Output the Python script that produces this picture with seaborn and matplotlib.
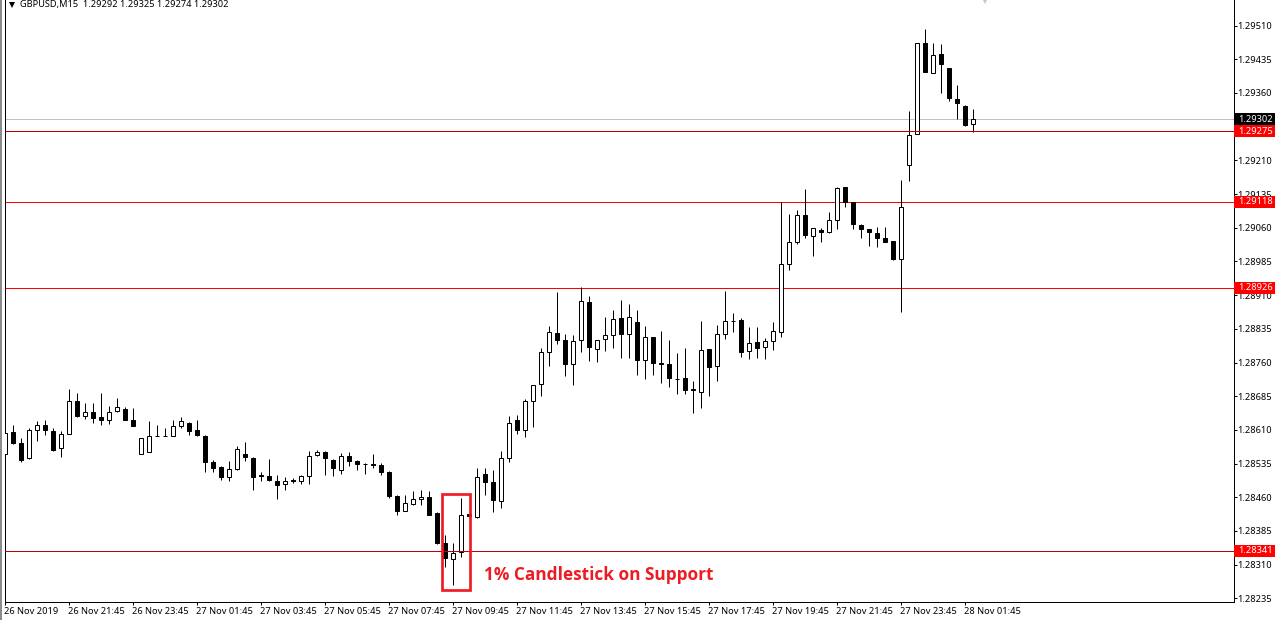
import matplotlib
matplotlib.use("Agg")
import matplotlib.pyplot as plt
import matplotlib.transforms as mtrans
from matplotlib.patches import Rectangle
import numpy as np
import pandas as pd
import seaborn as sns

# Prices in points (price x 100000), one entry per M15 candle
opens = [128557,128606,128580,128547,128610,128621,128608,128570,128601,128675,
         128641,128650,128639,128632,128652,128657,128632,128557,128561,128597,
         128597,128597,128619,128626,128610,128597,128539,128528,128505,128522,
         128557,128548,128510,128508,128497,128489,128499,128496,128508,128554,
         128561,128543,128521,128552,128541,128535,128535,128532,128517,128463,
         128429,128445,128457,128461,128424,128359,128323,128339,128422,128416,
         128512,128495,128452,128548,128631,128609,128675,128713,128784,128826,
         128811,128757,128811,128895,128791,128813,128822,128860,128824,128851,
         128766,128817,128759,128757,128724,128726,128702,128695,128791,128753,
         128824,128853,128855,128786,128806,128795,128809,128829,128980,129029,
         129089,129042,129056,129051,129078,129151,129118,129067,129058,129049,
         129038,129031,128991,129200,129268,129471,129404,129447,129415,129346,
         129331,129292]
highs = [128618,128620,128592,128614,128630,128633,128614,128608,128702,128692,
         128670,128670,128692,128663,128681,128661,128659,128592,128630,128622,
         128614,128632,128639,128628,128632,128599,128543,128530,128541,128574,
         128583,128549,128517,128546,128510,128506,128503,128510,128564,128566,
         128564,128546,128559,128561,128543,128537,128557,128537,128519,128466,
         128466,128475,128477,128475,128428,128377,128359,128459,128422,128526,
         128526,128521,128564,128642,128644,128678,128711,128793,128842,128918,
         128824,128822,128929,128909,128811,128862,128877,128900,128891,128877,
         128842,128817,128831,128811,128782,128793,128719,128853,128791,128844,
         128920,128871,128860,128840,128838,128815,128851,129117,129091,129100,
         129147,129060,129060,129094,129151,129151,129118,129069,129058,129062,
         129062,129031,129167,129320,129471,129502,129471,129469,129415,129378,
         129333,129325]
lows = [128550,128578,128538,128545,128585,128598,128562,128549,128601,128638,
        128634,128625,128620,128623,128649,128631,128618,128557,128561,128596,
        128596,128597,128615,128598,128596,128516,128516,128498,128496,128521,
        128540,128476,128496,128496,128456,128476,128492,128489,128489,128552,
        128509,128507,128512,128529,128521,128512,128525,128509,128458,128420,
        128429,128443,128443,128420,128356,128304,128264,128326,128418,128414,
        128466,128427,128436,128538,128601,128594,128616,128685,128752,128801,
        128730,128710,128783,128763,128761,128785,128792,128771,128770,128732,
        128723,128732,128714,128705,128690,128690,128647,128659,128685,128719,
        128812,128828,128772,128768,128770,128768,128788,128817,128966,129024,
        129037,128997,129028,129048,129057,129106,129057,129037,129019,129017,
        129028,128988,128872,129164,129268,129407,129404,129359,129343,129303,
        129286,129274]
closes = [128603,128580,128544,128610,128621,128609,128566,128601,128675,128640,
          128650,128636,128631,128650,128661,128631,128618,128592,128597,128596,
          128596,128619,128630,128607,128598,128538,128525,128505,128523,128568,
          128549,128505,128508,128498,128487,128497,128496,128508,128552,128561,
          128547,128525,128552,128541,128534,128534,128532,128516,128463,128429,
          128448,128457,128461,128420,128358,128325,128336,128421,128418,128506,
          128495,128454,128548,128626,128609,128675,128711,128784,128829,128810,
          128757,128808,128898,128794,128811,128822,128857,128823,128862,128765,
          128817,128759,128757,128725,128723,128699,128699,128788,128750,128824,
          128853,128852,128783,128804,128793,128808,128831,128980,129029,129089,
          129044,129060,129051,129078,129149,129118,129068,129057,129051,129037,
          129028,128990,129107,129267,129471,129407,129444,129424,129348,129337,
          129288,129302]

y_ticks = [1.29510,1.29435,1.29360,1.29210,1.29135,1.29060,1.28985,1.28910,
           1.28835,1.28760,1.28685,1.28610,1.28535,1.28460,1.28385,1.28310,1.28235]
x_labels = ["26 Nov 2019","26 Nov 21:45","26 Nov 23:45","27 Nov 01:45","27 Nov 03:45",
            "27 Nov 05:45","27 Nov 07:45","27 Nov 09:45","27 Nov 11:45","27 Nov 13:45",
            "27 Nov 15:45","27 Nov 17:45","27 Nov 19:45","27 Nov 21:45","27 Nov 23:45",
            "28 Nov 01:45"]
red_levels = [1.29118, 1.28926]
dark_levels = [1.29275, 1.28341]
bid_level = 1.29302
header = "GBPUSD,M15  1.29292 1.29325 1.29274 1.29302"
note = "1% Candlestick on Support"

sns.set_theme(style="white")
plt.rcParams["font.family"] = ["Noto Sans", "DejaVu Sans"]

W, H = 1280, 620
px = 72 / 100
fig = plt.figure(figsize=(W / 100, H / 100), dpi=100, facecolor="white")
ax = fig.add_axes([4.5 / W, (H - 601.5) / H, (1233.5 - 4.5) / W, 601.5 / H])

o = np.array(opens) / 1e5
h = np.array(highs) / 1e5
l = np.array(lows) / 1e5
c = np.array(closes) / 1e5
idx = np.arange(len(o))

wicks = pd.DataFrame({"bar": np.r_[idx, idx], "price": np.r_[l, h]})
sns.lineplot(data=wicks, x="bar", y="price", units="bar", estimator=None,
             color="black", lw=1 * px, legend=False, ax=ax, zorder=3,
             solid_capstyle="butt", errorbar=None)

up = c >= o
ax.bar(idx[up], (c - o)[up], bottom=o[up], width=0.5, facecolor="white",
       edgecolor="black", linewidth=1 * px, zorder=4)
ax.bar(idx[~up], (c - o)[~up], bottom=o[~up], width=0.5, facecolor="black",
       edgecolor="black", linewidth=1 * px, zorder=4)

ax.set_xlim(-0.1, 153.52)
ax.set_ylim(1.28228, 1.29567)

for lv in red_levels:
    ax.axhline(lv, color="#ff0000", lw=1 * px, zorder=2)
for lv in dark_levels:
    ax.axhline(lv, color="#c00000", lw=1 * px, zorder=5)
ax.axhline(bid_level, color="#c0c0c0", lw=1 * px, zorder=2)

# Price tags on the right-hand scale
yt = ax.get_yaxis_transform()
tag_h = 12 * 2.226 / 1e5
for lv, col in [(bid_level, "black")] + [(v, "#ff0000") for v in dark_levels + red_levels]:
    ax.add_patch(Rectangle((1.0006, lv - tag_h / 2), 41 / 1229, tag_h, transform=yt,
                           facecolor=col, edgecolor="none", clip_on=False, zorder=10))
    ax.text(1.0036, lv, f"{lv:.5f}", transform=yt, color="white", fontsize=6.7,
            va="center", ha="left", clip_on=False, zorder=11)

# Highlight box and note
ax.add_patch(Rectangle((54.64, 1.28254), 58.12 - 54.64, 1.28468 - 1.28254,
                       facecolor="none", edgecolor="#ed1c24", lw=2.7 * px, zorder=6))
ax.text(59.84, 1.28286, note, color="#ed1c24", fontsize=12.4, fontweight="bold",
        family=["Open Sans", "DejaVu Sans"], va="center", ha="left", zorder=6)

# Header
ax.plot([0.006], [0.9915], marker="v", color="black", ms=4.5, mew=0,
        transform=ax.transAxes, clip_on=False, zorder=7, ls="none")
ax.text(15.5 / 1229, 0.9925, header, transform=ax.transAxes, fontsize=6.65,
        color="black", va="center", ha="left", zorder=7)
# Small grey marker at the top edge
ax.plot([980.5 / 1229], [1.0], marker="v", color="#c8c8c8", ms=6, mew=0,
        transform=ax.transAxes, clip_on=True, zorder=7, ls="none")

ax.set_xlabel("")
ax.set_ylabel("")
ax.yaxis.tick_right()
ax.set_yticks(y_ticks)
ax.set_yticklabels([f"{v:.5f}" for v in y_ticks])
ax.set_xticks(np.arange(len(x_labels)) * 8)
ax.set_xticklabels(x_labels)
ax.tick_params(axis="both", which="major", length=3 * px, width=1 * px, color="black",
               labelsize=6.7, labelcolor="black", bottom=True, right=True, left=False)
ax.tick_params(axis="x", pad=2.0)
ax.tick_params(axis="y", pad=0.6)
off = mtrans.ScaledTranslation(-1.0 / 100, 0, fig.dpi_scale_trans)
for t in ax.get_xticklabels():
    t.set_ha("left")
    t.set_transform(t.get_transform() + off)

ax.spines["top"].set_visible(False)
for s in ("left", "right", "bottom"):
    ax.spines[s].set_visible(True)
    ax.spines[s].set_color("black")
    ax.spines[s].set_linewidth(1 * px)

# Grey window edge at far left
fig.add_artist(Rectangle((0, 0), 2 / W, 1, transform=fig.transFigure,
                         facecolor="#8c8c8c", edgecolor="none"))

fig.savefig("out.png", dpi=100, facecolor="white")
